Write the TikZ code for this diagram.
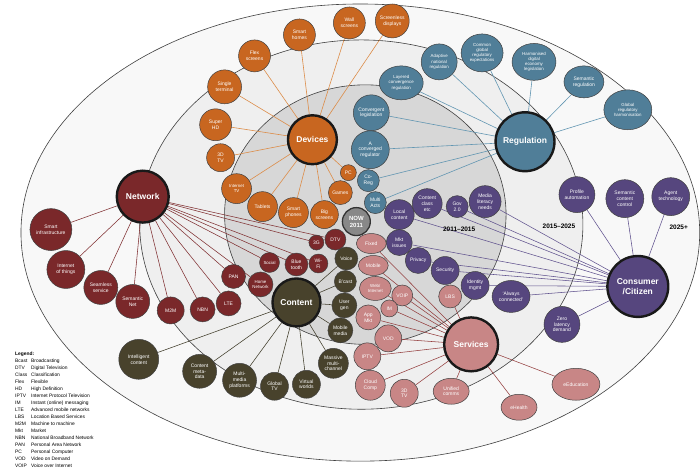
\documentclass[tikz,border=0pt]{standalone}
\usepackage{fontspec}
\setmainfont{Liberation Sans}
\usepackage{tikz}
\usetikzlibrary{shapes.geometric}

\definecolor{devfill}{RGB}{200,102,32}
\definecolor{devedge}{RGB}{220,140,72}
\definecolor{regfill}{RGB}{80,126,152}
\definecolor{regedge}{RGB}{98,150,178}
\definecolor{netfill}{RGB}{122,40,42}
\definecolor{netedge}{RGB}{128,48,50}
\definecolor{medfill}{RGB}{72,66,44}
\definecolor{mededge}{RGB}{62,58,40}
\definecolor{srvfill}{RGB}{200,134,134}
\definecolor{srvedge}{RGB}{148,62,62}
\definecolor{citfill}{RGB}{86,70,126}
\definecolor{citedge}{RGB}{96,82,142}
\definecolor{nowfill}{RGB}{136,136,136}
\definecolor{outerfill}{RGB}{248,248,248}
\definecolor{midfill}{RGB}{239,239,239}
\definecolor{innerfill}{RGB}{215,215,215}

\pgfdeclarelayer{zones}
\pgfdeclarelayer{links}
\pgfsetlayers{zones,links,main}

\begin{document}
\begin{tikzpicture}[
        x=1pt, y=-1pt,
        hub/.style={circle, draw=black!90, line width=2.4pt, inner sep=0pt, align=center, text=white, font=\fontsize{8.5}{10}\selectfont\bfseries},
        sat/.style={circle, draw=black!75, line width=0.5pt, inner sep=0pt, align=center, text=white, font=\fontsize{5}{5.8}\selectfont},
        small/.style={font=\fontsize{4.4}{5.1}\selectfont},
        device/.style={sat, fill=devfill},
        regul/.style={sat, fill=regfill},
        net/.style={sat, fill=netfill},
        media/.style={sat, fill=medfill},
        service/.style={sat, fill=srvfill},
        citizen/.style={sat, fill=citfill},
        now/.style={circle, fill=nowfill, draw=black!80, line width=1.3pt, inner sep=0pt, align=center, text=white, font=\fontsize{6}{7}\selectfont\bfseries},
        devlink/.style={draw=devedge, line width=0.6pt},
        reglink/.style={draw=regedge, line width=0.6pt},
        netlink/.style={draw=netedge, line width=0.55pt},
        medlink/.style={draw=mededge, line width=0.55pt},
        srvlink/.style={draw=srvedge, line width=0.55pt},
        citlink/.style={draw=citedge, line width=0.55pt},
        band/.style={draw=black!75, line width=0.6pt},
        yearlabel/.style={font=\fontsize{6.5}{7}\selectfont\bfseries, text=black}
    ]

    % --- 0. VUNG THOI GIAN ---
    \begin{pgfonlayer}{zones}
        \fill[white] (0,0) rectangle (700,473);
        \draw[band, fill=outerfill] (361,233) ellipse [x radius=340, y radius=229];
        \draw[band, fill=midfill] (362,225) ellipse [x radius=222, y radius=185];
        \draw[band, fill=innerfill] (366,215) ellipse [x radius=141, y radius=130];
    \end{pgfonlayer}
    \useasboundingbox (0,0) rectangle (700,473);

    \node[now, minimum size=28pt] (now) at (357,222) {NOW\\2011};
    \node[yearlabel] (y1) at (460,230) {2011--2015};
    \node[yearlabel] (y2) at (560,227) {2015--2025};
    \node[yearlabel] (y3) at (680,228) {2025+};

    % --- 1. HUBS ---
    \node[hub, fill=devfill, minimum size=49pt] (Devices) at (313,140) {Devices};
    \node[hub, fill=regfill, minimum size=59pt] (Regulation) at (526,142) {Regulation};
    \node[hub, fill=netfill, minimum size=52pt] (Network) at (143,197) {Network};
    \node[hub, fill=medfill, minimum size=48pt] (Content) at (297,303) {Content};
    \node[hub, fill=srvfill, minimum size=54pt] (Services) at (472,345) {Services};
    \node[hub, fill=citfill, minimum size=61pt] (Consumer) at (639,287) {Consumer\\/Citizen};

    % --- 2. DEVICES ---
    \node[device, minimum size=34pt] (dscreenless) at (393,21) {Screenless\\displays};
    \node[device, minimum size=32pt] (dwall) at (350,23) {Wall\\screens};
    \node[device, minimum size=32pt] (dhomes) at (300,35) {Smart\\homes};
    \node[device, minimum size=32pt] (dflex) at (255,56) {Flex\\screens};
    \node[device, minimum size=34pt] (dsingle) at (225,87) {Single\\terminal};
    \node[device, minimum size=32pt] (dsuperhd) at (216,125) {Super\\HD};
    \node[device, minimum size=28pt] (d3dtv) at (221,158) {3D\\TV};
    \node[device, small, minimum size=30pt] (dinttv) at (237,189) {Internet\\TV};
    \node[device, minimum size=30pt] (dtablets) at (263,207) {Tablets};
    \node[device, minimum size=30pt] (dphones) at (294,213) {Smart\\phones};
    \node[device, minimum size=28pt] (dbig) at (325,215) {Big\\screens};
    \node[device, minimum size=24pt] (dgames) at (341,193) {Games};
    \node[device, minimum size=16pt] (dpc) at (349,173) {PC};

    % --- 3. REGULATION ---
    \node[regul, small, ellipse, minimum width=44pt, minimum height=34pt] (rlayered) at (402,83) {Layered\\convergence\\regulation};
    \node[regul, small, minimum size=36pt] (radaptive) at (440,62) {Adaptive\\national\\regulation};
    \node[regul, small, ellipse, minimum width=42pt, minimum height=38pt] (rcommon) at (483,53) {Common\\global\\regulatory\\expectations};
    \node[regul, small, ellipse, minimum width=44pt, minimum height=37pt] (rharm) at (535,62) {Harmonised\\digital\\economy\\legislation};
    \node[regul, ellipse, minimum width=40pt, minimum height=32pt] (rsemantic) at (585,82) {Semantic\\regulation};
    \node[regul, small, ellipse, minimum width=48pt, minimum height=40pt] (rglobal) at (629,110) {Global\\regulatory\\harmonisation};
    \node[regul, minimum size=36pt] (rconvleg) at (372,113) {Convergent\\legislation};
    \node[regul, minimum size=38pt] (rconvreg) at (371,150) {A\\converged\\regulator};
    \node[regul, minimum size=22pt] (rcoreg) at (369,181) {Co-\\Reg};
    \node[regul, minimum size=22pt] (rmulti) at (376,203) {Multi\\Acts};

    % --- 4. NETWORK ---
    \node[net, minimum size=42pt] (nsmart) at (51,230) {Smart\\infrastructure};
    \node[net, minimum size=38pt] (niot) at (66,270) {Internet\\of things};
    \node[net, minimum size=34pt] (nseam) at (101,288) {Seamless\\service};
    \node[net, minimum size=34pt] (nsem) at (133,302) {Semantic\\Net};
    \node[net, minimum size=27pt] (nm2m) at (171,311) {M2M};
    \node[net, minimum size=25pt] (nnbn) at (203,310) {NBN};
    \node[net, minimum size=25pt] (nlte) at (229,304) {LTE};
    \node[net, minimum size=24pt] (npan) at (234,277) {PAN};
    \node[net, small, minimum size=25pt] (nhome) at (261,285) {Home\\Network};
    \node[net, small, minimum size=20pt] (nsocial) at (270,263) {Social};
    \node[net, minimum size=23pt] (nblue) at (297,265) {Blue\\tooth};
    \node[net, minimum size=19pt] (nwifi) at (319,264) {Wi-\\Fi};
    \node[net, minimum size=15pt] (n3g) at (317,243) {3G};
    \node[net, minimum size=21pt] (ndtv) at (336,240) {DTV};

    % --- 5. CONTENT ---
    \node[media, minimum size=23pt] (cvoice) at (347,259) {Voice};
    \node[media, minimum size=22pt] (cbcast) at (346,282) {B'cast};
    \node[media, minimum size=25pt] (cuser) at (345,306) {User\\gen};
    \node[media, minimum size=25pt] (cmobile) at (341,331) {Mobile\\media};
    \node[media, minimum size=30pt] (cmassive) at (334,364) {Massive\\multi-\\channel};
    \node[media, minimum size=28pt] (cvirtual) at (307,385) {Virtual\\worlds};
    \node[media, minimum size=28pt] (cglobal) at (275,387) {Global\\TV};
    \node[media, minimum size=34pt] (cmulti) at (240,381) {Multi-\\media\\platforms};
    \node[media, minimum size=34pt] (cmeta) at (200,372) {Content\\meta-\\data};
    \node[media, minimum size=40pt] (cintel) at (139,360) {Intelligent\\content};

    % --- 6. SERVICES ---
    \node[service, ellipse, minimum width=30pt, minimum height=20pt] (sfixed) at (372,244) {Fixed};
    \node[service, ellipse, minimum width=30pt, minimum height=20pt] (smobile) at (374,266) {Mobile};
    \node[service, small, ellipse, minimum width=32pt, minimum height=24pt] (sweb) at (376,289) {Web/\\Internet};
    \node[service, minimum size=21pt] (svoip) at (403,296) {VOIP};
    \node[service, minimum size=17pt] (sim) at (390,309) {IM};
    \node[service, minimum size=25pt] (sapp) at (369,318) {App\\Mkt};
    \node[service, minimum size=23pt] (slbs) at (451,297) {LBS};
    \node[service, minimum size=27pt] (svod) at (389,339) {VOD};
    \node[service, minimum size=27pt] (siptv) at (368,357) {IPTV};
    \node[service, minimum size=30pt] (scloud) at (371,386) {Cloud\\Comp};
    \node[service, minimum size=28pt] (s3dtv) at (405,394) {3D\\TV};
    \node[service, ellipse, minimum width=36pt, minimum height=26pt] (sunified) at (452,392) {Unified\\comms};
    \node[service, ellipse, minimum width=36pt, minimum height=26pt] (shealth) at (520,408) {eHealth};
    \node[service, ellipse, minimum width=48pt, minimum height=32pt] (sedu) at (577,385) {eEducation};

    % --- 7. CONSUMER / CITIZEN ---
    \node[citizen, minimum size=36pt] (uprofile) at (578,195) {Profile\\automation};
    \node[citizen, minimum size=38pt] (usemantic) at (626,199) {Semantic\\content\\control};
    \node[citizen, minimum size=38pt] (uagent) at (672,197) {Agent\\technology};
    \node[citizen, minimum size=36pt] (uzero) at (563,325) {Zero\\latency\\demand};
    \node[citizen, ellipse, minimum width=38pt, minimum height=32pt] (ualways) at (512,297) {`Always\\connected'};
    \node[citizen, minimum size=28pt] (uident) at (476,286) {Identity\\mgmt};
    \node[citizen, minimum size=28pt] (usecurity) at (446,271) {Security};
    \node[citizen, minimum size=26pt] (uprivacy) at (419,261) {Privacy};
    \node[citizen, minimum size=26pt] (umkt) at (400,243) {Mkt\\issues};
    \node[citizen, minimum size=30pt] (ulocal) at (400,215) {Local\\content};
    \node[citizen, minimum size=30pt] (uclass) at (428,204) {Content\\class\\etc};
    \node[citizen, minimum size=22pt] (ugov) at (458,207) {Gov\\2.0};
    \node[citizen, minimum size=32pt] (umedia) at (486,202) {Media\\literacy\\needs};

    % --- 8. LIEN KET ---
    \begin{pgfonlayer}{links}
        \draw[devlink] (Devices) -- (dscreenless); \draw[devlink] (Devices) -- (dwall); \draw[devlink] (Devices) -- (dhomes);
        \draw[devlink] (Devices) -- (dflex); \draw[devlink] (Devices) -- (dsingle); \draw[devlink] (Devices) -- (dsuperhd);
        \draw[devlink] (Devices) -- (d3dtv); \draw[devlink] (Devices) -- (dinttv); \draw[devlink] (Devices) -- (dtablets);
        \draw[devlink] (Devices) -- (dphones); \draw[devlink] (Devices) -- (dbig); \draw[devlink] (Devices) -- (dgames);
        \draw[devlink] (Devices) -- (dpc);

        \draw[reglink] (Regulation) -- (rlayered); \draw[reglink] (Regulation) -- (radaptive); \draw[reglink] (Regulation) -- (rcommon);
        \draw[reglink] (Regulation) -- (rharm); \draw[reglink] (Regulation) -- (rsemantic); \draw[reglink] (Regulation) -- (rglobal);
        \draw[reglink] (Regulation) -- (rconvleg); \draw[reglink] (Regulation) -- (rconvreg); \draw[reglink] (Regulation) -- (rcoreg);
        \draw[reglink] (Regulation) -- (rmulti);

        \draw[netlink] (Network) -- (nsmart); \draw[netlink] (Network) -- (niot); \draw[netlink] (Network) -- (nseam);
        \draw[netlink] (Network) -- (nsem); \draw[netlink] (Network) -- (nm2m); \draw[netlink] (Network) -- (nnbn);
        \draw[netlink] (Network) -- (nlte); \draw[netlink] (Network) -- (npan); \draw[netlink] (Network) -- (nhome);
        \draw[netlink] (Network) -- (nsocial); \draw[netlink] (Network) -- (nblue); \draw[netlink] (Network) -- (nwifi);
        \draw[netlink] (Network) -- (n3g); \draw[netlink] (Network) -- (ndtv);

        \draw[medlink] (Content) -- (cvoice); \draw[medlink] (Content) -- (cbcast); \draw[medlink] (Content) -- (cuser);
        \draw[medlink] (Content) -- (cmobile); \draw[medlink] (Content) -- (cmassive); \draw[medlink] (Content) -- (cvirtual);
        \draw[medlink] (Content) -- (cglobal); \draw[medlink] (Content) -- (cmulti); \draw[medlink] (Content) -- (cmeta);
        \draw[medlink] (Content) -- (cintel);

        \draw[srvlink] (Services) -- (sfixed); \draw[srvlink] (Services) -- (smobile); \draw[srvlink] (Services) -- (sweb);
        \draw[srvlink] (Services) -- (svoip); \draw[srvlink] (Services) -- (sim); \draw[srvlink] (Services) -- (sapp);
        \draw[srvlink] (Services) -- (slbs); \draw[srvlink] (Services) -- (svod); \draw[srvlink] (Services) -- (siptv);
        \draw[srvlink] (Services) -- (scloud); \draw[srvlink] (Services) -- (s3dtv); \draw[srvlink] (Services) -- (sunified);
        \draw[srvlink] (Services) -- (shealth); \draw[srvlink] (Services) -- (sedu);

        \draw[citlink] (Consumer) -- (uprofile); \draw[citlink] (Consumer) -- (usemantic); \draw[citlink] (Consumer) -- (uagent);
        \draw[citlink] (Consumer) -- (uzero); \draw[citlink] (Consumer) -- (ualways); \draw[citlink] (Consumer) -- (uident);
        \draw[citlink] (Consumer) -- (usecurity); \draw[citlink] (Consumer) -- (uprivacy); \draw[citlink] (Consumer) -- (umkt);
        \draw[citlink] (Consumer) -- (ulocal); \draw[citlink] (Consumer) -- (uclass); \draw[citlink] (Consumer) -- (ugov);
        \draw[citlink] (Consumer) -- (umedia);
    \end{pgfonlayer}

    % --- 9. LEGEND ---
    \node[anchor=north west, inner sep=0pt, font=\fontsize{4.9}{7}\selectfont] (legend) at (15,351) {%
        \begin{tabular}{@{}p{16pt}@{}l@{}}
            \multicolumn{2}{@{}l@{}}{\bfseries Legend:}\\
            Bcast & Broadcasting\\
            DTV & Digital Television\\
            Class & Classification\\
            Flex & Flexible\\
            HD & High Definition\\
            IPTV & Internet Protocol Television\\
            IM & Instant (online) messaging\\
            LTE & Advanced mobile networks\\
            LBS & Location Based Services\\
            M2M & Machine to machine\\
            Mkt & Market\\
            NBN & National Broadband Network\\
            PAN & Personal Area Network\\
            PC & Personal Computer\\
            VOD & Video on Demand\\
            VOIP & Voice over Internet
        \end{tabular}};

\end{tikzpicture}
\end{document}
